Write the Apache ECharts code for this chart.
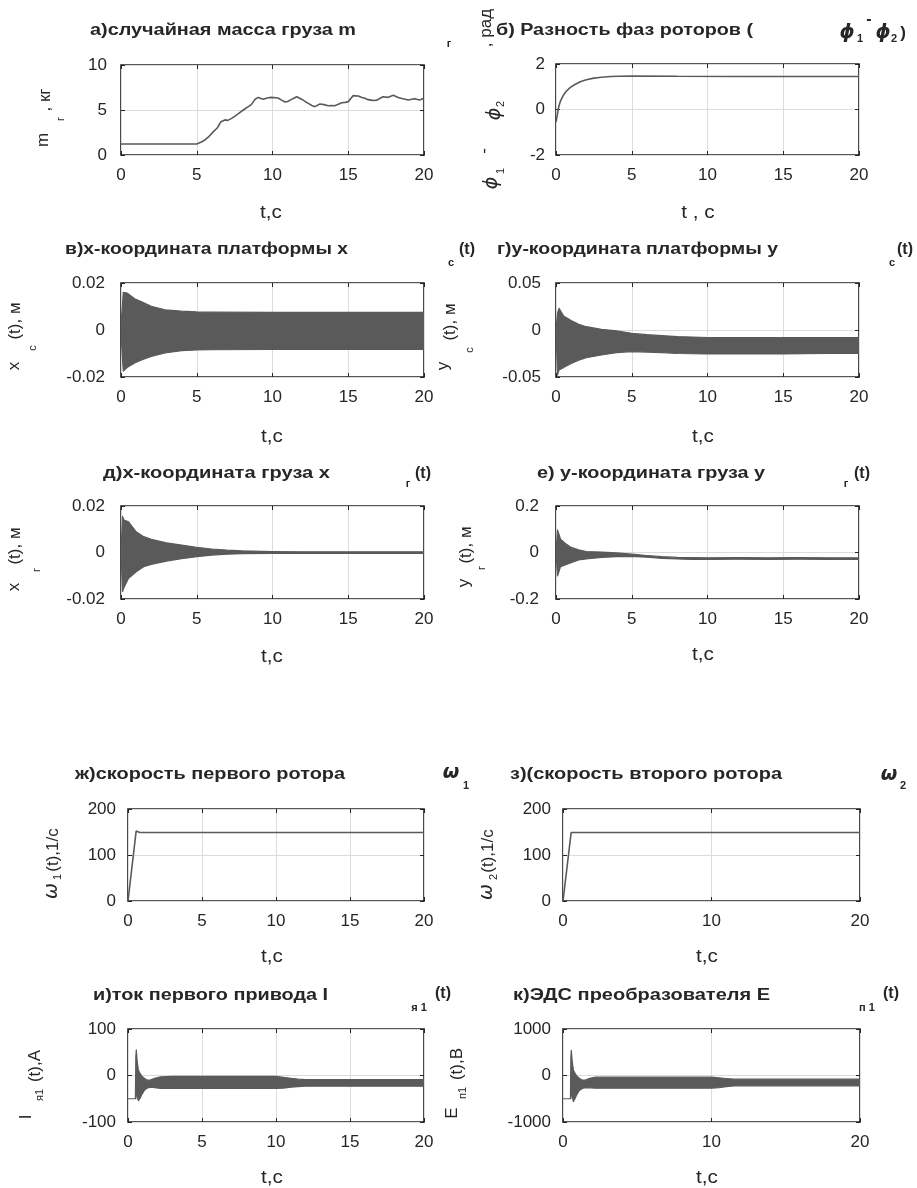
<!DOCTYPE html>
<html><head><meta charset="utf-8">
<script src="https://cdn.jsdelivr.net/npm/echarts@6/dist/echarts.min.js"></script>
<style>html,body{margin:0;padding:0;background:#fff}#c{width:917px;height:1188px}</style>
</head><body><div id="c"></div>
<script>
// ---------- data ----------
// а) random load mass m_г(t), kg
const tMass = [0, 5.0, 5.3, 5.54, 5.8, 6.1, 6.35, 6.6, 6.86, 7.05, 7.3, 7.5, 7.75, 8.07, 8.4, 8.6, 8.85, 9.06, 9.2, 9.39, 9.6, 9.83, 10.1, 10.4, 10.6, 10.83, 11.0, 11.16, 11.4, 11.6, 11.92, 12.15, 12.36, 12.6, 12.8, 13.13, 13.4, 13.68, 13.9, 14.1, 14.35, 14.57, 14.8, 15.0, 15.33, 15.66, 15.9, 16.1, 16.3, 16.5, 16.7, 16.9, 17.1, 17.3, 17.6, 17.97, 18.3, 18.6, 18.97, 19.2, 19.4, 19.7, 19.9, 20];
const mass = [1.22, 1.22, 1.45, 1.67, 2.05, 2.6, 3.0, 3.7, 3.9, 3.85, 4.07, 4.3, 4.6, 5.0, 5.37, 5.6, 6.19, 6.4, 6.3, 6.2, 6.3, 6.4, 6.38, 6.3, 6.1, 5.89, 5.95, 6.1, 6.3, 6.48, 6.2, 5.95, 5.74, 5.5, 5.37, 5.67, 5.6, 5.48, 5.5, 5.48, 5.65, 5.8, 5.85, 5.93, 6.6, 6.56, 6.4, 6.3, 6.15, 6.1, 6.05, 6.1, 6.3, 6.48, 6.4, 6.63, 6.4, 6.26, 6.1, 6.2, 6.26, 6.1, 6.26, 6.2];
// б) phase difference, rad
const tPhase = [0, 0.07, 0.18, 0.3, 0.5, 0.7, 0.95, 1.25, 1.6, 2.0, 2.5, 3.0, 3.6, 4.2, 5, 8, 12, 16, 20];
const phase = [-0.55, -0.3, 0.12, 0.38, 0.64, 0.82, 0.97, 1.1, 1.22, 1.31, 1.38, 1.42, 1.45, 1.46, 1.47, 1.46, 1.45, 1.45, 1.45];
// в) x_c(t): envelope of the oscillation (upper / lower)
const tXc = [0, 0.15, 0.4, 0.9, 1.4, 2.0, 2.9, 4.0, 5.0, 6.0, 10, 15, 20];
const xcHi = [0.002, 0.0160, 0.0157, 0.0133, 0.0119, 0.0101, 0.0086, 0.0080, 0.0077, 0.0076, 0.0075, 0.0075, 0.0075];
const xcLo = [-0.002, -0.0175, -0.0160, -0.0140, -0.0126, -0.0112, -0.0098, -0.0088, -0.0085, -0.0084, -0.0083, -0.0083, -0.0083];
// г) y_c(t)
const tYc = [0, 0.1, 0.2, 0.5, 1, 1.5, 2, 3, 4, 5, 6, 7, 8, 10, 12, 15, 18, 20];
const ycHi = [0, 0.018, 0.023, 0.015, 0.010, 0.006, 0.0035, 0.0007, -0.001, -0.0035, -0.005, -0.006, -0.007, -0.008, -0.008, -0.008, -0.008, -0.008];
const ycLo = [0, -0.048, -0.0425, -0.040, -0.0355, -0.032, -0.0295, -0.0265, -0.024, -0.023, -0.0235, -0.024, -0.025, -0.0255, -0.0255, -0.0255, -0.025, -0.025];
// д) x_г(t)
const tXg = [0, 0.1, 0.2, 0.5, 1, 1.5, 2, 3, 4, 5, 6, 7, 8, 10, 12, 15, 20];
const xgHi = [0, 0.0155, 0.014, 0.0132, 0.0089, 0.0068, 0.0057, 0.0042, 0.0032, 0.0022, 0.0015, 0.0010, 0.0007, 0.0004, 0.0003, 0.0003, 0.0003];
const xgLo = [0, -0.0168, -0.015, -0.0111, -0.0083, -0.0061, -0.0051, -0.0037, -0.0027, -0.0018, -0.0011, -0.0007, -0.0005, -0.0004, -0.0004, -0.0004, -0.0004];
// е) y_г(t)
const tYg = [0, 0.1, 0.3, 0.6, 1, 1.5, 2, 3, 4, 5, 6, 7, 8, 9, 10, 12, 14, 16, 18, 20];
const ygHi = [0, 0.097, 0.057, 0.040, 0.022, 0.011, 0.004, 0.002, -0.002, -0.007, -0.013, -0.018, -0.021, -0.022, -0.023, -0.022, -0.023, -0.022, -0.023, -0.023];
const ygLo = [0, -0.101, -0.061, -0.054, -0.044, -0.032, -0.028, -0.021, -0.018, -0.017, -0.020, -0.025, -0.028, -0.030, -0.030, -0.029, -0.030, -0.029, -0.030, -0.030];
// ж), з) rotor speeds, 1/s
const tW = [0, 0.04, 0.55, 0.62, 0.8, 1.5, 20];
const w1 = [0, 0, 152, 149, 149, 149, 149];
const w2 = [0, 0, 149, 149, 149, 149, 149];
// и) armature current I_я1(t), A (envelope)
const tI = [0, 0.5, 0.53, 0.56, 0.62, 0.7, 0.8, 0.95, 1.1, 1.3, 1.5, 1.8, 2.2, 3, 5, 8, 10, 10.5, 11, 11.5, 12, 14, 17, 20];
const iHi = [-50, -50, 40, 55, 30, 12, 5, -2, -6, -10, -10, -6, -3, -2, -2, -2, -2, -4, -6, -8, -9, -9, -9, -9];
const iLo = [-50, -50, -50, -20, -45, -54, -50, -40, -32, -27, -25, -26, -28, -28, -28, -28, -28, -27, -25, -24, -23, -23, -23, -23];
// к) converter EMF E_п1(t), V (envelope)
const tE = [0, 0.5, 0.53, 0.56, 0.62, 0.7, 0.8, 0.95, 1.1, 1.3, 1.5, 1.8, 2.2, 3, 5, 8, 10, 10.5, 11, 11.5, 12, 14, 17, 20];
const eHi = [-500, -500, 400, 540, 300, 120, 50, -20, -60, -100, -100, -60, -35, -35, -35, -35, -35, -50, -65, -78, -80, -80, -80, -80];
const eLo = [-500, -500, -500, -200, -450, -560, -500, -400, -320, -280, -260, -265, -272, -272, -272, -272, -272, -260, -240, -225, -222, -222, -222, -222];

// ---------- styling / layout ----------
const FONT = '"Liberation Sans", Arial, sans-serif';
const GREEK = '"DejaVu Sans", sans-serif';
const LINE = '#5a5a5a';
const AXC = '#262626';
const GRIDC = '#dcdcdc';

const panels = [
  {box:[121,65,303,90],  xi:5,  y:[0,10,5],            lm:14},
  {box:[556,64,303,91],  xi:5,  y:[-2,2,2],            lm:11},
  {box:[121,283,303,94], xi:5,  y:[-0.02,0.02,0.02],   lm:16},
  {box:[556,283,303,94], xi:5,  y:[-0.05,0.05,0.05],   lm:15},
  {box:[121,506,303,93], xi:5,  y:[-0.02,0.02,0.02],   lm:16},
  {box:[556,506,303,93], xi:5,  y:[-0.2,0.2,0.2],      lm:17},
  {box:[128,809,296,92], xi:5,  y:[0,200,100],         lm:12},
  {box:[563,809,297,92], xi:10, y:[0,200,100],         lm:12},
  {box:[128,1029,296,93],xi:5,  y:[-100,100,100],      lm:12},
  {box:[563,1029,297,93],xi:10, y:[-1000,1000,1000],   lm:12}
];

const grids = [], xAxes = [], yAxes = [];
const tick = {show:true, inside:true, length:4, lineStyle:{color:AXC, width:1}};
const noLine = {show:false, onZero:false};
const plain = v => String(v);
panels.forEach((p, i) => {
  grids.push({left:p.box[0], top:p.box[1], width:p.box[2], height:p.box[3], show:true,
    backgroundColor:'#fff', borderColor:'#1e1e1e', borderWidth:1.6, containLabel:false, outerBoundsMode:'none'});
  xAxes.push({gridIndex:i, type:'value', min:0, max:20, interval:p.xi, position:'bottom',
    axisLine:noLine, axisTick:tick,
    axisLabel:{color:AXC, fontFamily:FONT, fontSize:17, margin:12, formatter:plain},
    splitLine:{show:true, lineStyle:{color:GRIDC, width:1}}});
  xAxes.push({gridIndex:i, type:'value', min:0, max:20, interval:p.xi, position:'top',
    axisLine:noLine, axisTick:tick, axisLabel:{show:false}, splitLine:{show:false}});
  yAxes.push({gridIndex:i, type:'value', min:p.y[0], max:p.y[1], interval:p.y[2], position:'left',
    axisLine:noLine, axisTick:tick,
    axisLabel:{color:AXC, fontFamily:FONT, fontSize:17, margin:p.lm, formatter:plain},
    splitLine:{show:true, lineStyle:{color:GRIDC, width:1}}});
  yAxes.push({gridIndex:i, type:'value', min:p.y[0], max:p.y[1], interval:p.y[2], position:'right',
    axisLine:noLine, axisTick:tick, axisLabel:{show:false}, splitLine:{show:false}});
});

const zip = (t, v) => t.map((x, k) => [x, v[k]]);
function line(i, t, v) {
  return {type:'line', xAxisIndex:2*i, yAxisIndex:2*i, data:zip(t, v), showSymbol:false, symbol:'none',
    clip:true, silent:true, lineStyle:{color:LINE, width:1.6}};
}
function band(i, t, hi, lo) {
  return {type:'custom', xAxisIndex:2*i, yAxisIndex:2*i, silent:true, clip:true, data:[[t[0], hi[0]]],
    renderItem: (params, api) => {
      const pts = [];
      for (let k = 0; k < t.length; k++) pts.push(api.coord([t[k], hi[k]]));
      for (let k = t.length - 1; k >= 0; k--) pts.push(api.coord([t[k], lo[k]]));
      return {type:'polygon', shape:{points:pts}, style:{fill:LINE, stroke:LINE, lineWidth:1.2, lineJoin:'round'}};
    }};
}

const series = [
  line(0, tMass, mass),
  line(1, tPhase, phase),
  band(2, tXc, xcHi, xcLo),
  band(3, tYc, ycHi, ycLo),
  band(4, tXg, xgHi, xgLo),
  band(5, tYg, ygHi, ygLo),
  line(6, tW, w1),
  line(7, tW, w2),
  band(8, tI, iHi, iLo),
  band(9, tE, eHi, eLo)
];

// ---------- texts ----------
const ctx = document.createElement('canvas').getContext('2d');
function measure(s, font) { ctx.font = font; return ctx.measureText(s).width; }
function txt(s, x, y, o) {
  o = o || {};
  return {type:'text', x:x, y:y, rotation:o.rot ? Math.PI/2 : 0, scaleX:o.sx || 1, z:100, silent:true,
    style:{text:s, fontFamily:o.ff || FONT, fontSize:o.fs || 17, fontWeight:o.fw || 'normal',
      fontStyle:o.it ? 'italic' : 'normal', fill:AXC, align:o.al || 'center', verticalAlign:'middle'}};
}
function title(s, left, right, y) {
  const fs = 16;
  const w = measure(s, 'bold ' + fs + 'px "Liberation Sans"');
  return txt(s, left, y, {fw:'bold', fs:fs, al:'left', sx:(right - left) / w});
}
const B = {fw:'bold', fs:11};
const BP = {fw:'bold', fs:16};
const GB = {fw:'bold', it:true, fs:19, ff:GREEK};
const R = {rot:true};
const RS = {rot:true, fs:11};
const RG = {rot:true, it:true, fs:19, ff:GREEK};
const XL = {fs:18, sx:1.15};

const texts = [
  // titles
  title('а)случайная масса груза m', 90, 356, 31), txt('г', 449, 44, B),
  title('б) Разность фаз роторов (', 496, 753, 31),
  txt('ϕ', 847, 33, GB), txt('1', 860, 39, B), txt('-', 869, 20, BP), txt('ϕ', 883, 33, GB), txt('2', 894, 39, B), txt(')', 903, 33, {fw:'bold', fs:17}),
  title('в)х-координата платформы х', 65, 348, 250), txt('с', 451, 263, B), txt('(t)', 467, 250, BP),
  title('г)у-координата платформы у', 497, 778, 250), txt('с', 892, 263, B), txt('(t)', 905, 250, BP),
  title('д)х-координата груза х', 103, 330, 474), txt('г', 408, 484, B), txt('(t)', 423, 474, BP),
  title('е) у-координата груза у', 537, 765, 474), txt('г', 846, 484, B), txt('(t)', 862, 474, BP),
  title('ж)скорость первого ротора', 75, 345, 775), txt('ω', 451, 773, GB), txt('1', 466, 786, B),
  title('з)(скорость второго ротора', 510, 782, 775), txt('ω', 889, 775, GB), txt('2', 903, 786, B),
  title('и)ток первого привода I', 93, 328, 996), txt('я 1', 419, 1008, B), txt('(t)', 443, 994, BP),
  title('к)ЭДС преобразователя Е', 513, 770, 996), txt('п 1', 867, 1008, B), txt('(t)', 891, 994, BP),
  // y-axis names
  txt('m', 43, 140, R), txt('г', 61, 119, RS), txt(', кг', 45, 100, R),
  txt('ϕ', 492, 183, RG), txt('1', 501, 171, RS), txt('-', 484, 151, R), txt('ϕ', 495, 114, RG), txt('2', 501, 104, RS), txt(', рад', 486, 28, R),
  txt('x', 14, 366, R), txt('c', 33, 348, RS), txt('(t), м', 15, 321, R),
  txt('y', 443, 366, R), txt('c', 470, 350, RS), txt('(t), м', 450, 322, R),
  txt('x', 14, 587, R), txt('г', 37, 570, RS), txt('(t), м', 15, 546, R),
  txt('y', 464, 583, R), txt('г', 482, 568, RS), txt('(t), м', 466, 545, R),
  txt('ω', 52, 891, RG), txt('1', 58, 877, RS), txt('(t),1/с', 53, 850, R),
  txt('ω', 487, 892, RG), txt('2', 494, 877, RS), txt('(t),1/с', 488, 851, R),
  txt('I', 26, 1117, R), txt('я1', 40, 1095, RS), txt('(t),A', 35, 1066, R),
  txt('E', 452, 1113, R), txt('п1', 463, 1093, RS), txt('(t),В', 457, 1064, R),
  // x-axis names
  txt('t,c', 271, 213, XL), txt('t , c', 698, 213, XL),
  txt('t,c', 272, 437, XL), txt('t,c', 703, 437, XL),
  txt('t,c', 272, 657, XL), txt('t,c', 703, 655, XL),
  txt('t,c', 272, 957, XL), txt('t,c', 707, 957, XL),
  txt('t,c', 272, 1178, XL), txt('t,c', 707, 1178, XL)
];

const chart = echarts.init(document.getElementById('c'), null, {renderer:'canvas'});
chart.setOption({
  animation:false,
  backgroundColor:'#fff',
  grid:grids, xAxis:xAxes, yAxis:yAxes, series:series,
  graphic:{elements:texts}
});
</script></body></html>
